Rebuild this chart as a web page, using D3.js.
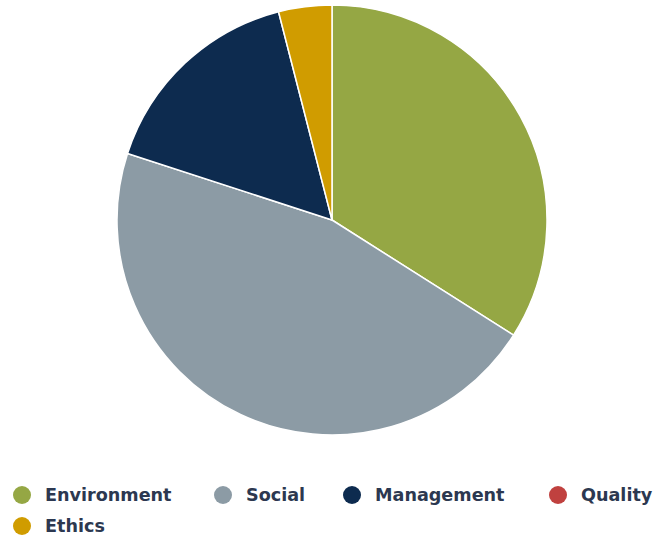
<!DOCTYPE html>
<html><head><meta charset="utf-8">
<script src="https://cdn.jsdelivr.net/npm/d3@7"></script>
<style>body{margin:0;background:#fff;}svg{display:block;}</style>
</head><body>
<svg id="chart" width="659" height="539"></svg>
<script>
const categories = ["Environment", "Social", "Management", "Quality", "Ethics"];
const values = [34, 46, 16, 0, 4];
const colors = ["#95a744", "#8c9ba5", "#0d2b4f", "#c0413f", "#d09c00"];

const svg = d3.select("#chart");
const cx = 332, cy = 220, r = 215;
const data = categories.map((c, i) => ({ name: c, value: values[i], color: colors[i] }));
const pie = d3.pie().sort(null).value(d => d.value);
const arc = d3.arc().innerRadius(0).outerRadius(r);
svg.append("g").attr("transform", `translate(${cx},${cy})`)
  .selectAll("path").data(pie(data).filter(d => d.data.value > 0)).join("path")
  .attr("d", arc).attr("fill", d => d.data.color)
  .attr("stroke", "#fff").attr("stroke-width", 1.5).attr("stroke-linejoin", "round");

const legendPos = [[22, 495], [223, 495], [352, 495], [558, 495], [22, 526]];
const lg = svg.append("g");
data.forEach((d, i) => {
  const [x, y] = legendPos[i];
  lg.append("circle").attr("cx", x).attr("cy", y).attr("r", 9).attr("fill", d.color);
  lg.append("text").attr("x", x + 23).attr("y", y + 6)
    .attr("font-family", "'DejaVu Sans', sans-serif")
    .attr("font-weight", "bold").attr("font-size", 17.6).attr("fill", "#2c3850")
    .text(d.name);
});
</script>
</body></html>
